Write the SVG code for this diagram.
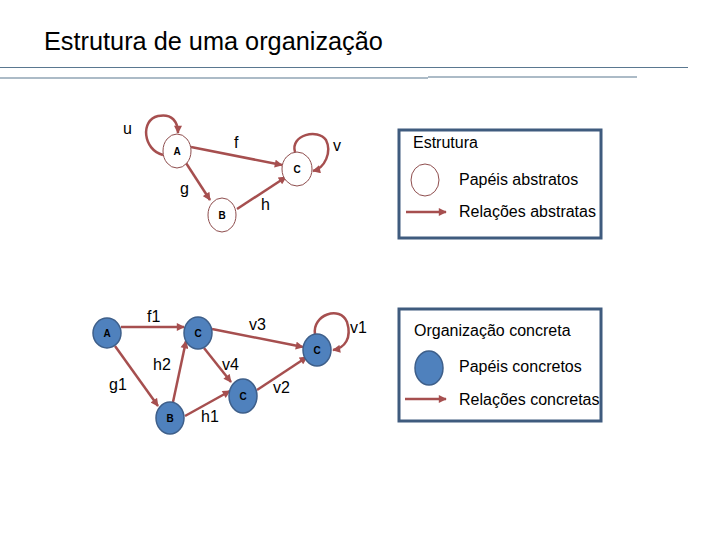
<svg xmlns="http://www.w3.org/2000/svg" width="720" height="540" viewBox="0 0 720 540">
<defs>
<style>
.t{font-family:"Liberation Sans",Arial,sans-serif;fill:#000}
.title{font-size:25.3px}
.lbl{font-size:16px}
.leg{font-size:16px}
.nl{font-size:10px;font-weight:bold;text-anchor:middle}
.e{fill:none;stroke:#A64F4F;stroke-width:2.5}
.na{fill:#fff;stroke:#8E4D4D;stroke-width:1}
.nc{fill:#4F81BD;stroke:#3E5F8A;stroke-width:1.5}
.box{fill:none;stroke:#3F5B7E;stroke-width:3}
.rule{stroke:#5A7890;stroke-width:1.2}
</style>
<marker id="ah" viewBox="0 0 10 10" refX="9" refY="5" markerWidth="9" markerHeight="8" markerUnits="userSpaceOnUse" orient="auto">
<path d="M0,0 L10,5 L0,10 z" fill="#A64F4F"/>
</marker>
</defs>
<rect width="720" height="540" fill="#fff"/>
<text class="t title" x="44" y="50">Estrutura de uma organização</text>
<line class="rule" x1="0" y1="67.5" x2="688" y2="67.5"/>
<line class="rule" x1="0" y1="78" x2="428" y2="78"/>
<line class="rule" x1="428" y1="77" x2="637" y2="77"/>

<g id="connectors">
<path class="e" d="M191,147 L282,165" marker-end="url(#ah)"/>
<path class="e" d="M186,163 L210,200" marker-end="url(#ah)"/>
<path class="e" d="M237,209 L286,177" marker-end="url(#ah)"/>
<path class="e" d="M163,155 C143,150 140,120 158,116 C172,113 178,122 178,133" marker-end="url(#ah)"/>
<path class="e" d="M295,152 C290,135 318,128 326,140 C332,152 325,168 313,171" marker-end="url(#ah)"/>

<path class="e" d="M121,327 L184,327" marker-end="url(#ah)"/>
<path class="e" d="M115,346 L158,406" marker-end="url(#ah)"/>
<path class="e" d="M173,402 L186,341" marker-end="url(#ah)"/>
<path class="e" d="M204,348 L231,382" marker-end="url(#ah)"/>
<path class="e" d="M185,416 L230,391" marker-end="url(#ah)"/>
<path class="e" d="M212,329 L303,347" marker-end="url(#ah)"/>
<path class="e" d="M257,390 L307,357" marker-end="url(#ah)"/>
<path class="e" d="M315,334 C312,315 340,305 347,322 C352,338 345,348 333,350" marker-end="url(#ah)"/>
</g>

<g id="edge-labels">
<text class="t lbl" x="123" y="134">u</text>
<text class="t lbl" x="234" y="148">f</text>
<text class="t lbl" x="333" y="151">v</text>
<text class="t lbl" x="180" y="194">g</text>
<text class="t lbl" x="261" y="210">h</text>
<text class="t lbl" x="147" y="322">f1</text>
<text class="t lbl" x="249" y="330">v3</text>
<text class="t lbl" x="350" y="333">v1</text>
<text class="t lbl" x="153" y="370">h2</text>
<text class="t lbl" x="222" y="370">v4</text>
<text class="t lbl" x="109" y="390">g1</text>
<text class="t lbl" x="273" y="393">v2</text>
<text class="t lbl" x="201" y="422">h1</text>
</g>

<g id="nA"><ellipse class="na" cx="177" cy="151" rx="14" ry="17"/><text class="t nl" x="177" y="155">A</text></g>
<g id="nB"><ellipse class="na" cx="222" cy="215" rx="14" ry="17"/><text class="t nl" x="222" y="219">B</text></g>
<g id="nC"><ellipse class="na" cx="297" cy="169" rx="15" ry="17"/><text class="t nl" x="297" y="173">C</text></g>

<g id="cA"><ellipse class="nc" cx="107" cy="333" rx="14" ry="15"/><text class="t nl" x="107" y="337">A</text></g>
<g id="cC1"><ellipse class="nc" cx="198" cy="333" rx="14" ry="16"/><text class="t nl" x="198" y="337">C</text></g>
<g id="cB"><ellipse class="nc" cx="170" cy="418" rx="14" ry="16"/><text class="t nl" x="170" y="422">B</text></g>
<g id="cC2"><ellipse class="nc" cx="243" cy="396" rx="14" ry="17"/><text class="t nl" x="243" y="400">C</text></g>
<g id="cC3"><ellipse class="nc" cx="317" cy="350" rx="14" ry="16"/><text class="t nl" x="317" y="354">C</text></g>

<g id="legend-estrutura">
<rect class="box" x="399" y="130" width="202" height="108"/>
<text class="t leg" x="413" y="148">Estrutura</text>
<ellipse class="na" cx="425" cy="180" rx="14" ry="16"/>
<text class="t leg" x="459" y="185">Papéis abstratos</text>
<path class="e" d="M406,212 L446,212" marker-end="url(#ah)"/>
<text class="t leg" x="459" y="217">Relações abstratas</text>
</g>

<g id="legend-concreta">
<rect class="box" x="399" y="309" width="202" height="112"/>
<text class="t leg" x="414" y="336">Organização concreta</text>
<ellipse class="nc" cx="429" cy="368" rx="14" ry="17"/>
<text class="t leg" x="459" y="372">Papéis concretos</text>
<path class="e" d="M405,399 L446,399" stroke="#9B5A5A" marker-end="url(#ah)"/>
<text class="t leg" x="459" y="405">Relações concretas</text>
</g>
</svg>
